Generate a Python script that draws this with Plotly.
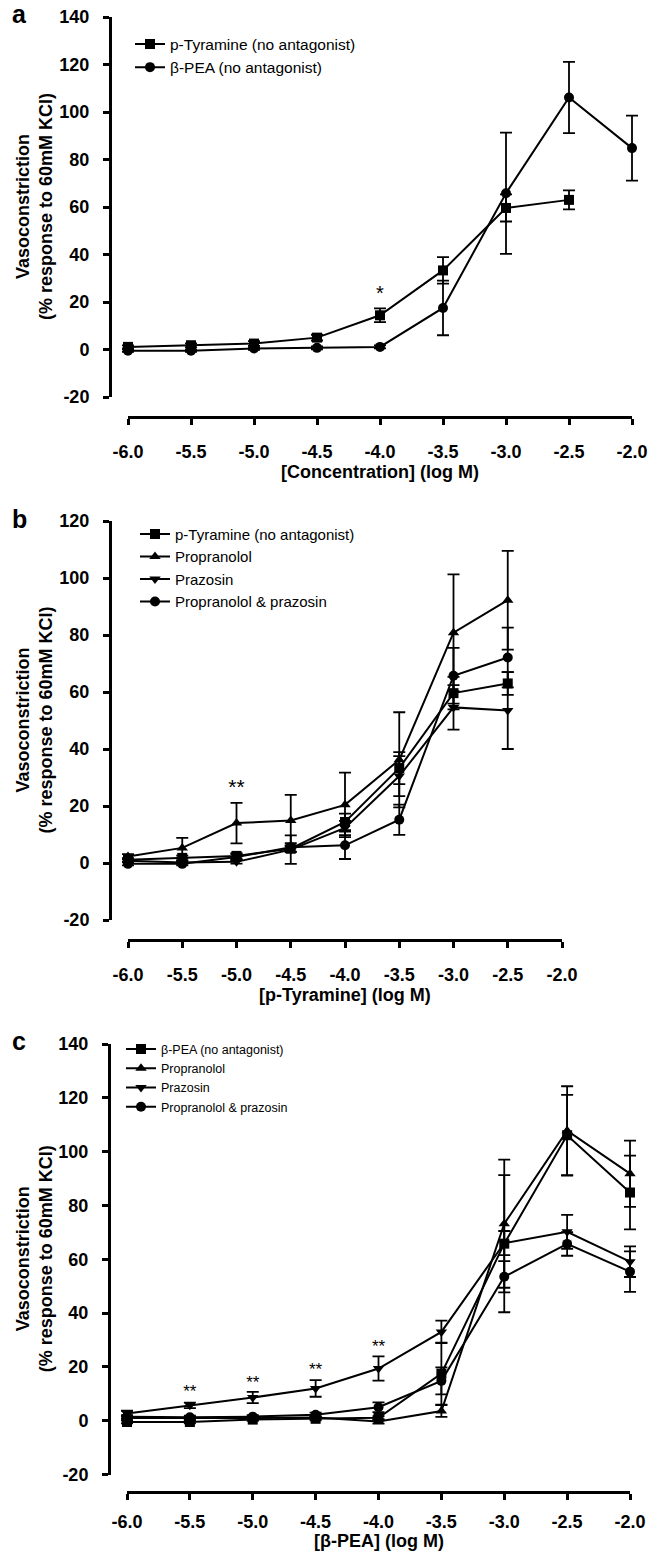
import plotly.graph_objects as go

W, H = 659, 1555

# ---------------- data ----------------
conc_tyr = [-6.0, -5.5, -5.0, -4.5, -4.0, -3.5, -3.0, -2.5]
conc_pea = [-6.0, -5.5, -5.0, -4.5, -4.0, -3.5, -3.0, -2.5, -2.0]

# p-Tyramine (no antagonist)
tyr_mean = [1.1, 1.8, 2.5, 5.0, 14.4, 33.3, 59.6, 63.0]
tyr_sem = [0.6, 0.8, 1.0, 1.2, 2.9, 5.6, 5.7, 4.0]
# beta-PEA (no antagonist)
pea_mean = [-0.5, -0.5, 0.4, 0.7, 1.1, 17.5, 65.8, 106.1, 84.8]
pea_sem = [0.5, 0.5, 0.5, 0.6, 0.6, 11.5, 25.5, 15.0, 13.7]

# p-Tyramine with antagonists
tyr_prop_mean = [2.3, 5.3, 14.0, 14.9, 20.4, 36.2, 80.8, 92.2]
tyr_prop_sem = [0.8, 3.5, 7.1, 9.0, 11.3, 16.7, 20.5, 17.3]
tyr_praz_mean = [0.8, 0.2, 0.4, 4.7, 12.3, 30.5, 54.6, 53.5]
tyr_praz_sem = [0.5, 0.5, 0.6, 5.0, 2.5, 7.0, 7.8, 13.5]
tyr_both_mean = [-0.3, -0.3, 2.1, 5.5, 6.2, 15.2, 65.7, 72.1]
tyr_both_sem = [0.5, 0.5, 1.0, 1.5, 4.8, 5.3, 9.8, 10.5]

# beta-PEA with antagonists
pea_prop_mean = [1.0, 0.9, 1.0, 1.2, -0.3, 3.6, 73.2, 107.8, 91.8]
pea_prop_sem = [0.8, 0.5, 0.5, 0.5, 0.8, 2.2, 23.8, 16.5, 12.3]
pea_praz_mean = [2.7, 5.7, 8.6, 12.0, 19.4, 33.0, 66.0, 70.2, 59.1]
pea_praz_sem = [1.0, 1.0, 2.1, 3.1, 4.5, 4.2, 4.5, 6.3, 5.7]
pea_both_mean = [1.5, 1.3, 1.5, 2.2, 5.0, 14.8, 53.5, 65.7, 55.4]
pea_both_sem = [0.6, 0.6, 0.6, 0.8, 1.8, 5.0, 5.8, 4.4, 7.5]

# significance marks
sig_a_x = [-4.0]
sig_a_y = [22.8]
sig_a_text = ["*"]
sig_b_x = [-5.0]
sig_b_y = [26.0]
sig_b_text = ["**"]
sig_c_x = [-5.5, -5.0, -4.5, -4.0]
sig_c_y = [10.2, 13.9, 18.5, 27.2]
sig_c_text = ["**", "**", "**", "**"]

# ticks
x_tick_vals = [-6.0, -5.5, -5.0, -4.5, -4.0, -3.5, -3.0, -2.5, -2.0]
x_tick_text = ["-6.0", "-5.5", "-5.0", "-4.5", "-4.0", "-3.5", "-3.0", "-2.5", "-2.0"]
y_tick_vals_ac = [-20, 0, 20, 40, 60, 80, 100, 120, 140]
y_tick_text_ac = ["-20", "0", "20", "40", "60", "80", "100", "120", "140"]
y_tick_vals_b = [-20, 0, 20, 40, 60, 80, 100, 120]
y_tick_text_b = ["-20", "0", "20", "40", "60", "80", "100", "120"]

y_title = "Vasoconstriction<br>(% response to 60mM KCl)"
x_titles = ["[Concentration] (log M)", "[p-Tyramine] (log M)", "[β-PEA] (log M)"]
panel_letters = ["a", "b", "c"]

# ---------------- layout geometry (pixels) ----------------
FONT = "Liberation Sans, Arial, sans-serif"
X_LO, X_HI = -6.0, -2.0
panels = [
    dict(x0=128, x1=632, ytop=17, ybot=397, xline=416.5, yline=110,
         yr=[-20, 140], yv=y_tick_vals_ac, yt=y_tick_text_ac, xstand=12,
         xt_y=472, letter_y=14),
    dict(x0=128, x1=562, ytop=521, ybot=920, xline=940, yline=110,
         yr=[-20, 120], yv=y_tick_vals_b, yt=y_tick_text_b, xstand=11,
         xt_y=995, letter_y=519),
    dict(x0=127, x1=630, ytop=1044, ybot=1474.5, xline=1492, yline=109,
         yr=[-20, 140], yv=y_tick_vals_ac, yt=y_tick_text_ac, xstand=6,
         xt_y=1541, letter_y=1041),
]
PAD = 16  # px of extra data-axis room so error-bar caps are not clipped


def fx(px):
    return px / W


def fy(py):
    return 1 - py / H


fig = go.Figure()

line_style = dict(color="black", width=2)


def err(arr):
    return dict(type="data", array=arr, visible=True, color="black",
                thickness=1.8, width=6)


def ax_id(prefix, i):
    return prefix if i == 1 else f"{prefix}{i}"


def add_series(x, y, e, name, symbol, size, idx, legend):
    fig.add_trace(go.Scatter(
        x=x, y=y, error_y=err(e), name=name, mode="lines+markers",
        line=line_style,
        marker=dict(symbol=symbol, size=size, color="black",
                    line=dict(width=0)),
        xaxis=ax_id("x", idx), yaxis=ax_id("y", idx),
        legend=legend, cliponaxis=False,
    ))


# panel a
add_series(conc_tyr, tyr_mean, tyr_sem, "p-Tyramine (no antagonist)", "square", 10, 1, "legend")
add_series(conc_pea, pea_mean, pea_sem, "β-PEA (no antagonist)", "circle", 10, 1, "legend")
# panel b
add_series(conc_tyr, tyr_mean, tyr_sem, "p-Tyramine (no antagonist)", "square", 10, 2, "legend2")
add_series(conc_tyr, tyr_prop_mean, tyr_prop_sem, "Propranolol", "triangle-up", 10, 2, "legend2")
add_series(conc_tyr, tyr_praz_mean, tyr_praz_sem, "Prazosin", "triangle-down", 10, 2, "legend2")
add_series(conc_tyr, tyr_both_mean, tyr_both_sem, "Propranolol & prazosin", "circle", 10, 2, "legend2")
# panel c
add_series(conc_pea, pea_mean, pea_sem, "β-PEA (no antagonist)", "square", 10, 3, "legend3")
add_series(conc_pea, pea_prop_mean, pea_prop_sem, "Propranolol", "triangle-up", 10, 3, "legend3")
add_series(conc_pea, pea_praz_mean, pea_praz_sem, "Prazosin", "triangle-down", 10, 3, "legend3")
add_series(conc_pea, pea_both_mean, pea_both_sem, "Propranolol & prazosin", "circle", 10, 3, "legend3")

# significance asterisks
for idx, (sx, sy, st, fs) in enumerate([(sig_a_x, sig_a_y, sig_a_text, 20),
                                         (sig_b_x, sig_b_y, sig_b_text, 21),
                                         (sig_c_x, sig_c_y, sig_c_text, 17)], start=1):
    fig.add_trace(go.Scatter(
        x=sx, y=sy, text=st, mode="text", showlegend=False, hoverinfo="skip",
        textfont=dict(family=FONT, size=fs, color="black"),
        textposition="middle center", cliponaxis=False,
        xaxis=ax_id("x", idx), yaxis=ax_id("y", idx),
    ))

# invisible anchor traces so the visible (exact-span) x axes get drawn
for idx in range(1, 4):
    fig.add_trace(go.Scatter(
        x=[X_LO], y=[None], mode="markers", showlegend=False, hoverinfo="skip",
        marker=dict(opacity=0), xaxis=f"x{idx + 3}", yaxis=ax_id("y", idx),
    ))

tickfont = dict(family=FONT, size=18, color="black", weight="bold")
layout = dict(
    template="none",
    width=W, height=H, margin=dict(l=0, r=0, t=0, b=0, pad=0, autoexpand=False),
    paper_bgcolor="white", plot_bgcolor="rgba(0,0,0,0)", showlegend=True,
    font=dict(family=FONT, color="black"),
)

annotations = []
for i, p in enumerate(panels, start=1):
    sx = "" if i == 1 else str(i)
    scale = (p["x1"] - p["x0"]) / (X_HI - X_LO)
    pad_u = PAD / scale
    # data axis (hidden, slightly wider so nothing is clipped)
    layout["xaxis" + sx] = dict(
        domain=[fx(p["x0"] - PAD), fx(p["x1"] + PAD)],
        range=[X_LO - pad_u, X_HI + pad_u], anchor="free", position=fy(p["xline"]),
        visible=False, showgrid=False, zeroline=False, automargin=False,
    )
    # visible x axis spanning exactly -6 .. -2
    layout[f"xaxis{i + 3}"] = dict(
        domain=[fx(p["x0"]), fx(p["x1"])], range=[X_LO, X_HI], anchor="free",
        position=fy(p["xline"]), showline=True, linewidth=3, linecolor="black",
        ticks="outside", ticklen=6, tickwidth=2.5, tickcolor="black",
        tickvals=x_tick_vals, ticktext=x_tick_text, tickfont=tickfont,
        showgrid=False, zeroline=False, ticklabelstandoff=p["xstand"],
        automargin=False, fixedrange=True,
    )
    layout["yaxis" + sx] = dict(
        domain=[fy(p["ybot"]), fy(p["ytop"])], range=p["yr"], anchor="free",
        position=fx(p["yline"]), showline=True, linewidth=3, linecolor="black",
        ticks="outside", ticklen=6, tickwidth=2.5, tickcolor="black",
        tickvals=p["yv"], ticktext=p["yt"], tickfont=tickfont,
        showgrid=False, zeroline=False, ticklabelstandoff=10, automargin=False,
    )
    annotations.append(dict(
        text=y_title, x=fx(34), y=fy((p["ytop"] + p["ybot"]) / 2),
        xref="paper", yref="paper", textangle=-90, showarrow=False,
        xanchor="center", yanchor="middle",
        font=dict(family=FONT, size=18, color="black", weight="bold"),
    ))
    annotations.append(dict(
        text=x_titles[i - 1], x=fx((p["x0"] + p["x1"]) / 2), y=fy(p["xt_y"]),
        xref="paper", yref="paper", showarrow=False,
        xanchor="center", yanchor="middle",
        font=dict(family=FONT, size=18, color="black", weight="bold"),
    ))
    annotations.append(dict(
        text=panel_letters[i - 1], x=fx(19), y=fy(p["letter_y"]),
        xref="paper", yref="paper", showarrow=False,
        xanchor="center", yanchor="middle",
        font=dict(family=FONT, size=25, color="black", weight="bold"),
    ))
layout["annotations"] = annotations

legend_common = dict(xanchor="left", yanchor="top", bgcolor="rgba(0,0,0,0)",
                     borderwidth=0, traceorder="normal", itemclick=False)
layout["legend"] = dict(x=fx(130), y=fy(27.4), font=dict(family=FONT, size=15.5, color="black"),
                        **legend_common)
layout["legend2"] = dict(x=fx(135), y=fy(517.8), font=dict(family=FONT, size=15, color="black"),
                         **legend_common)
layout["legend3"] = dict(x=fx(121), y=fy(1034.4), font=dict(family=FONT, size=12.5, color="black"),
                         **legend_common)

fig.update_layout(**layout)
fig.write_html("out.html")
